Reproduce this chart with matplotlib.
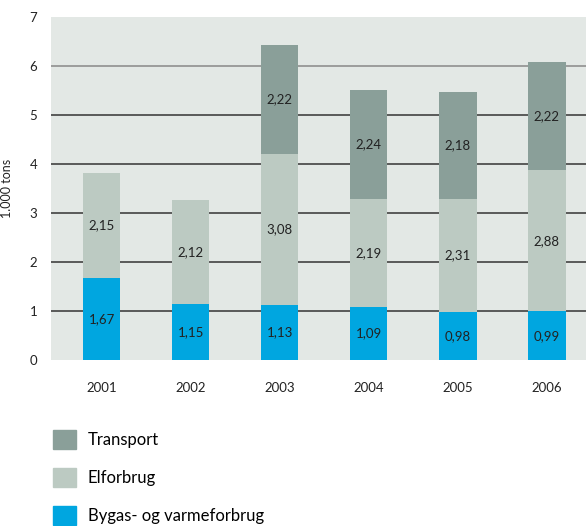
import numpy as np
import matplotlib
matplotlib.use('Agg')
import matplotlib.pyplot as plt
from matplotlib.patches import Patch

years = ['2001', '2002', '2003', '2004', '2005', '2006']
bygas = [1.67, 1.15, 1.13, 1.09, 0.98, 0.99]
elforbrug = [2.15, 2.12, 3.08, 2.19, 2.31, 2.88]
transport = [0, 0, 2.22, 2.24, 2.18, 2.22]

c_bygas = '#00a6e0'
c_el = '#bccac2'
c_tr = '#8a9f99'

plt.rcParams['font.family'] = ['Lato', 'DejaVu Sans']

fig = plt.figure(figsize=(5.86, 5.26), dpi=100)
W, H = 586, 526
ax = fig.add_axes([51 / W, (H - 360) / H, (586 - 51) / W, (360 - 17) / H])
ax.set_facecolor('#e3e8e5')

x = np.arange(len(years))
bw = 0.42
bottom2 = np.array(bygas)
bottom3 = bottom2 + np.array(elforbrug)

for yv in range(1, 7):
    ax.axhline(yv, color='#888888' if yv == 6 else '#333333', lw=1.1, zorder=1)

ax.bar(x, bygas, bw, color=c_bygas, zorder=2)
ax.bar(x, elforbrug, bw, bottom=bottom2, color=c_el, zorder=2)
ax.bar(x, transport, bw, bottom=bottom3, color=c_tr, zorder=2)

def fmt(v):
    return ('%.2f' % v).replace('.', ',')

fs = 9.5
for i in range(len(years)):
    ax.text(x[i], bygas[i] / 2, fmt(bygas[i]), ha='center', va='center', fontsize=fs, color='#222222', zorder=3)
    ax.text(x[i], bottom2[i] + elforbrug[i] / 2, fmt(elforbrug[i]), ha='center', va='center', fontsize=fs, color='#222222', zorder=3)
    if transport[i] > 0:
        ax.text(x[i], bottom3[i] + transport[i] / 2, fmt(transport[i]), ha='center', va='center', fontsize=fs, color='#222222', zorder=3)

ax.set_xlim(-0.57, 5.44)
ax.set_ylim(0, 7)
ax.set_yticks(range(0, 8))
ax.set_xticks(x)
ax.set_xticklabels(years)
ax.tick_params(axis='both', length=0, labelsize=fs, colors='#222222')
ax.tick_params(axis='x', pad=16)
ax.tick_params(axis='y', pad=10)
for s in ax.spines.values():
    s.set_visible(False)
ax.set_ylabel('1.000 tons', fontsize=9, color='#222222', labelpad=12)

handles = [Patch(color=c_tr, label='Transport'),
           Patch(color=c_el, label='Elforbrug'),
           Patch(color=c_bygas, label='Bygas- og varmeforbrug')]
fig.legend(handles=handles, loc='upper left', bbox_to_anchor=(48 / W, 1 - 425 / H),
           frameon=False, fontsize=12, handlelength=1.38, handleheight=1.38,
           labelspacing=1.15, handletextpad=0.7, borderaxespad=0, borderpad=0.3)

fig.savefig('out.png', dpi=100)
